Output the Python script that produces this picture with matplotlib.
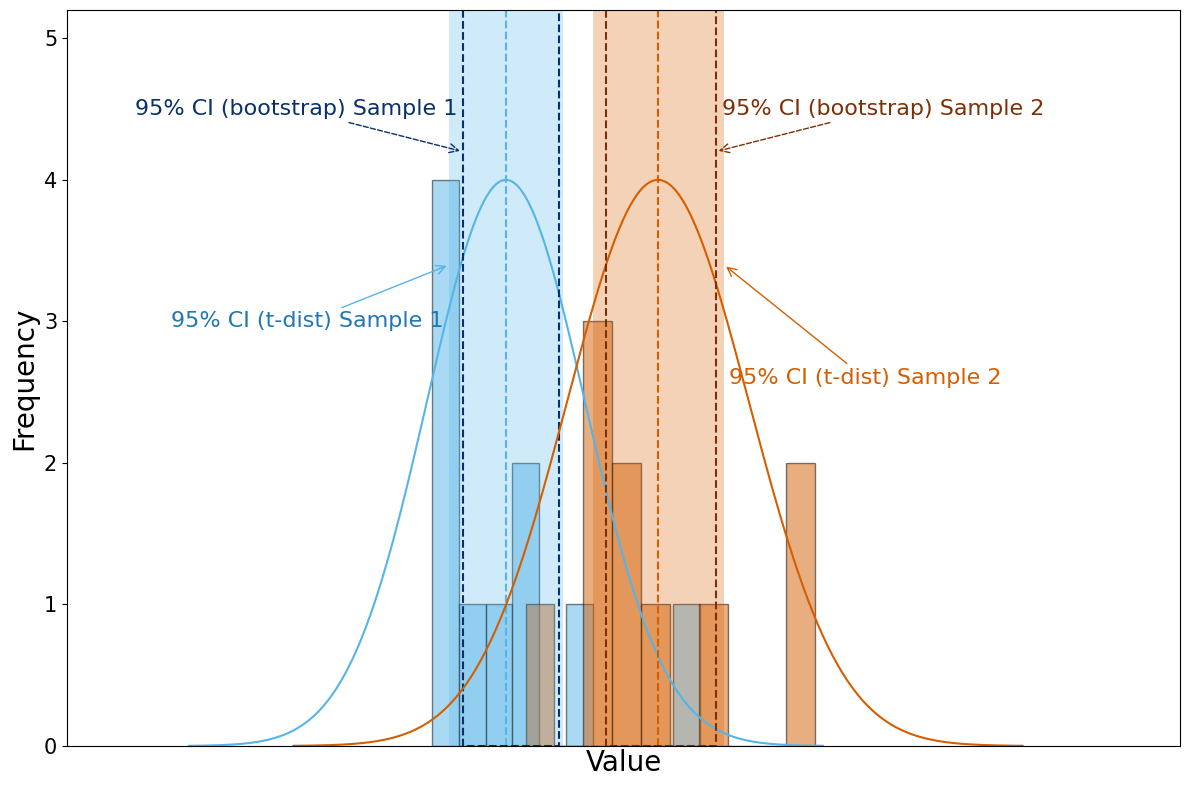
import numpy as np
import matplotlib

matplotlib.use("Agg")
import matplotlib.pyplot as plt

# raw sample values
sample1 = [32.8, 33.3, 34.0, 34.6, 36.2, 38.6, 40.7, 41.8, 46.1, 56.9]
sample2 = [41.2, 47.0, 47.7, 48.4, 49.7, 50.9, 52.8, 58.0, 65.9, 67.2]

# summary stats
means = [39.44, 53.10]
sds = [7.12, 8.19]
t_ci = [(34.35, 44.59), (47.23, 59.03)]
boot_ci = [(35.55, 44.23), (48.40, 58.31)]

colors = ["#56B4E9", "#D55E00"]
boot_colors = ["#08306b", "#7f2f06"]
tdist_text_colors = ["#1f77b4", "#D55E00"]

fig = plt.figure(figsize=(11.89, 7.9), dpi=100)
ax = fig.add_axes([0.0563, 0.0557, 0.9361, 0.9316])

ymax = 5.2
ax.set_xlim(0, 100)
ax.set_ylim(0, ymax)

counts = []
for data, c in zip([sample1, sample2], colors):
    n, _, _ = ax.hist(data, bins=10, color=c, alpha=0.5, edgecolor="black", linewidth=1)
    counts.append(n.max())
peak = max(counts)

for i in range(2):
    lo, hi = t_ci[i]
    ax.axvspan(lo, hi, color=colors[i], alpha=0.28, lw=0)
    x = np.linspace(means[i] - 4 * sds[i], means[i] + 4 * sds[i], 300)
    y = peak * np.exp(-0.5 * ((x - means[i]) / sds[i]) ** 2)
    ax.plot(x, y, color=colors[i], lw=1.5)
    ax.plot([means[i], means[i]], [0, ymax], color=colors[i], ls="--", lw=1.5)
    blo, bhi = boot_ci[i]
    ax.plot([blo, blo, bhi, bhi], [ymax, 0, 0, ymax], color=boot_colors[i], ls="--", lw=1.5)

fs = 16
ax.annotate("95% CI (bootstrap) Sample 1", xy=(boot_ci[0][0], 4.2), xytext=(20.6, 4.5),
            color=boot_colors[0], fontsize=fs, ha="center", va="center",
            arrowprops=dict(arrowstyle="->", color=boot_colors[0], ls="--"))
ax.annotate("95% CI (t-dist) Sample 1", xy=(t_ci[0][0], 3.4), xytext=(21.6, 3.0),
            color=tdist_text_colors[0], fontsize=fs, ha="center", va="center",
            arrowprops=dict(arrowstyle="->", color=colors[0]))
ax.annotate("95% CI (bootstrap) Sample 2", xy=(boot_ci[1][1], 4.2), xytext=(73.3, 4.5),
            color=boot_colors[1], fontsize=fs, ha="center", va="center",
            arrowprops=dict(arrowstyle="->", color=boot_colors[1], ls="--"))
ax.annotate("95% CI (t-dist) Sample 2", xy=(t_ci[1][1], 3.4), xytext=(71.7, 2.6),
            color=tdist_text_colors[1], fontsize=fs, ha="center", va="center",
            arrowprops=dict(arrowstyle="->", color=colors[1]))

ax.set_xticks([])
ax.tick_params(axis="y", labelsize=15)
ax.set_xlabel("Value", fontsize=20, labelpad=2)
ax.set_ylabel("Frequency", fontsize=20)

fig.savefig("out.png", dpi=100)
